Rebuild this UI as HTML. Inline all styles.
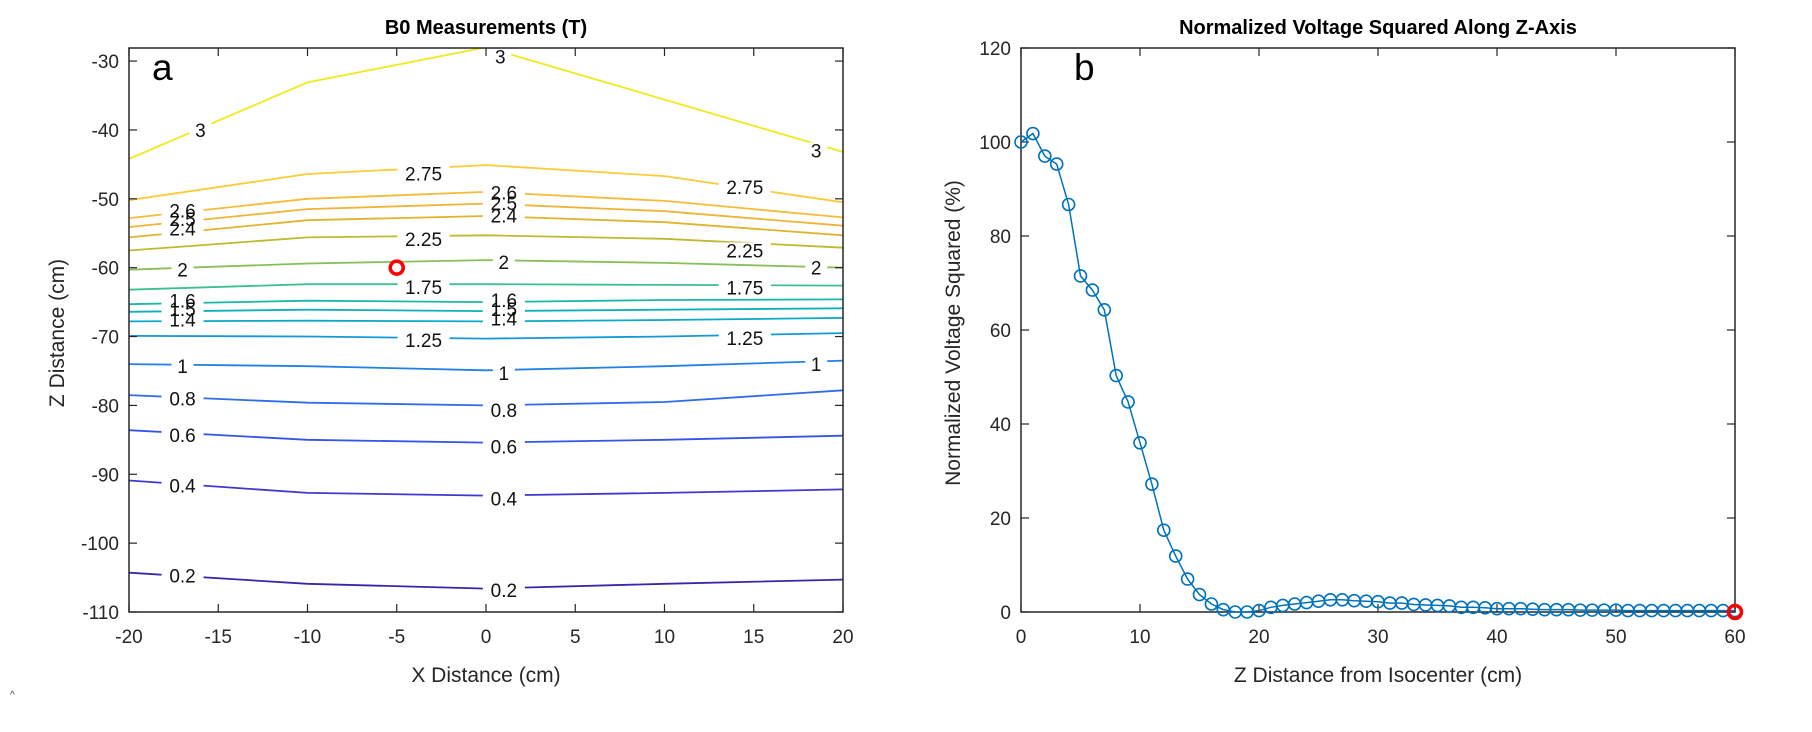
<!DOCTYPE html>
<html><head><meta charset="utf-8"><style>
html,body{margin:0;padding:0;background:#fff;}
svg{display:block;font-family:"Liberation Sans",Arial,sans-serif;}
</style></head><body>
<svg id="fig" width="1812" height="732" viewBox="0 0 1812 732">
<g id="left"></g>
<g id="right"></g>
<text x="10" y="698" font-size="10" fill="#444">^</text>
</svg>
<script>
// ---- Panel a data ----
const contourXs = [-20, -10, 0, 10, 20];
const contourLevels = [3, 2.75, 2.6, 2.5, 2.4, 2.25, 2, 1.75, 1.6, 1.5, 1.4, 1.25, 1, 0.8, 0.6, 0.4, 0.2];
const contourZ = [
 [-44.2,-33.1,-28.0,-35.6,-43.2],
 [-50.2,-46.4,-45.1,-46.7,-50.5],
 [-52.8,-50.0,-49.0,-50.3,-52.7],
 [-54.1,-51.5,-50.7,-51.8,-53.9],
 [-55.6,-53.1,-52.5,-53.4,-55.3],
 [-57.5,-55.6,-55.3,-55.8,-57.1],
 [-60.3,-59.4,-58.9,-59.3,-60.0],
 [-63.2,-62.4,-62.4,-62.5,-62.6],
 [-65.3,-64.8,-65.0,-64.7,-64.6],
 [-66.4,-66.1,-66.3,-66.1,-65.9],
 [-67.8,-67.7,-67.8,-67.6,-67.3],
 [-69.9,-70.0,-70.3,-70.0,-69.5],
 [-74.0,-74.3,-74.9,-74.3,-73.5],
 [-78.5,-79.6,-80.0,-79.5,-77.8],
 [-83.6,-85.0,-85.4,-85.0,-84.4],
 [-90.9,-92.7,-93.1,-92.7,-92.2],
 [-104.3,-105.9,-106.6,-105.9,-105.3]
];
const contourColors = ['#f2e81e','#fbcb3a','#f6bb39','#eeb537','#dfb42f','#bfb92f','#86c058','#3dbf8f','#1ab8a8','#0fb1b8','#0aa8c9','#1598d8','#2381e3','#2f6ced','#3555e6','#4138cc','#3f24a8'];
const labelLevels = ['3','3','3','2.75','2.75','2.6','2.6','2.5','2.5','2.4','2.4','2.25','2.25','2','2','2','1.75','1.75','1.6','1.6','1.5','1.5','1.4','1.4','1.25','1.25','1','1','1','0.8','0.8','0.6','0.6','0.4','0.4','0.2','0.2'];
const labelX = [-16,0.8,18.5,-3.5,14.5,-17,1,-17,1,-17,1,-3.5,14.5,-17,1,18.5,-3.5,14.5,-17,1,-17,1,-17,1,-3.5,14.5,-17,1,18.5,-17,1,-17,1,-17,1,-17,1];
const labelZ = [-40,-29.3,-43,-46.3,-48.3,-51.7,-49.1,-52.9,-50.6,-54.3,-52.4,-55.8,-57.5,-60.3,-59.2,-60,-62.8,-62.9,-64.8,-64.7,-66,-66,-67.5,-67.4,-70.5,-70.2,-74.3,-75.3,-74,-79,-80.7,-84.3,-86,-91.6,-93.5,-104.7,-106.8];
const leftXTicks = [-20,-15,-10,-5,0,5,10,15,20];
const leftYTicks = [-30,-40,-50,-60,-70,-80,-90,-100,-110];
const markerA = [-5, -60];

// ---- Panel b data ----
const zDist = [];
for (let i = 0; i <= 60; i++) zDist.push(i);
const voltSq = [100,101.8,97,95.3,86.7,71.5,68.5,64.3,50.3,44.7,36,27.2,17.4,11.9,7,3.7,1.7,0.5,0,0,0.3,1,1.4,1.7,2,2.3,2.6,2.6,2.4,2.3,2.2,1.9,1.9,1.6,1.5,1.4,1.3,1,1,0.9,0.7,0.7,0.7,0.6,0.5,0.5,0.5,0.4,0.4,0.4,0.4,0.3,0.3,0.3,0.3,0.3,0.3,0.3,0.3,0.3,0.3];
const rightXTicks = [0,10,20,30,40,50,60];
const rightYTicks = [0,20,40,60,80,100,120];
const markerB = [60, 0];

const NS = 'http://www.w3.org/2000/svg';
function mk(parent, tag, attrs, text) {
  const e = document.createElementNS(NS, tag);
  for (const k in attrs) e.setAttribute(k, attrs[k]);
  if (text !== undefined) e.textContent = text;
  parent.appendChild(e);
  return e;
}
const TC = '#262626';

// ---- Panel a ----
const L = document.getElementById('left');
const aL = 129, aR = 843, aT = 48, aB = 612;
const ax = x => aL + (x + 20) / 40 * (aR - aL);
const ay = z => aB - (z + 110) / 81.9 * (aB - aT);

const clipA = mk(L, 'clipPath', {id: 'clipA'});
mk(clipA, 'rect', {x: aL, y: aT, width: aR - aL, height: aB - aT});
const linesG = mk(L, 'g', {'clip-path': 'url(#clipA)'});


contourLevels.forEach((lv, i) => {
  const pts = contourXs.map((x, j) => ax(x).toFixed(1) + ',' + ay(contourZ[i][j]).toFixed(1)).join(' ');
  const pl = mk(linesG, 'polyline', {points: pts, fill: 'none', stroke: contourColors[i], 'stroke-width': 1.8});
  
  
});
labelLevels.forEach((t, i) => {
  const cx = ax(labelX[i]), cy = ay(labelZ[i]);
  const w = t.length * 10 + 12;
  const r = mk(L, 'rect', {x: cx - w / 2, y: cy - 8, width: w, height: 16, fill: '#fff'});
  
  
});
labelLevels.forEach((t, i) => {
  const cx = ax(labelX[i]), cy = ay(labelZ[i]);
  const tx = mk(L, 'text', {x: cx, y: cy + 7, 'font-size': 19, 'text-anchor': 'middle', fill: '#111'}, t);
  
  
});
mk(L, 'circle', {cx: ax(markerA[0]), cy: ay(markerA[1]), r: 6.5, fill: 'none', stroke: '#ff0000', 'stroke-width': 3.5,  });
mk(L, 'rect', {x: aL, y: aT, width: aR - aL, height: aB - aT, fill: 'none', stroke: TC, 'stroke-width': 1.5,  });
leftXTicks.forEach(v => {
  const x = ax(v);
  mk(L, 'line', {x1: x, y1: aB, x2: x, y2: aB - 8, stroke: TC, 'stroke-width': 1.2});
  mk(L, 'line', {x1: x, y1: aT, x2: x, y2: aT + 8, stroke: TC, 'stroke-width': 1.2});
  const t = mk(L, 'text', {x: x, y: aB + 31, 'font-size': 19, 'text-anchor': 'middle', fill: TC}, String(v));
  
  
});
leftYTicks.forEach(v => {
  const y = ay(v);
  mk(L, 'line', {x1: aL, y1: y, x2: aL + 8, y2: y, stroke: TC, 'stroke-width': 1.2});
  mk(L, 'line', {x1: aR, y1: y, x2: aR - 8, y2: y, stroke: TC, 'stroke-width': 1.2});
  const t = mk(L, 'text', {x: aL - 10, y: y + 7, 'font-size': 19, 'text-anchor': 'end', fill: TC}, String(v));
  
  
});
mk(L, 'text', {x: 486, y: 34, 'font-size': 20, 'font-weight': 'bold', 'text-anchor': 'middle', fill: '#000',  }, 'B0 Measurements (T)');
mk(L, 'text', {x: 486, y: 682, 'font-size': 21, 'text-anchor': 'middle', fill: TC,  }, 'X Distance (cm)');
mk(L, 'text', {x: 0, y: 0, 'font-size': 21, 'text-anchor': 'middle', fill: TC, transform: 'translate(64,333) rotate(-90)',  }, 'Z Distance (cm)');
mk(L, 'text', {x: 152, y: 80, 'font-size': 37, fill: '#000',  }, 'a');

// ---- Panel b ----
const R = document.getElementById('right');
const bL = 1021, bR = 1735, bT = 48, bB = 612;
const bx = x => bL + x / 60 * (bR - bL);
const by = v => bB - v / 120 * (bB - bT);
mk(R, 'rect', {x: bL, y: bT, width: bR - bL, height: bB - bT, fill: 'none', stroke: TC, 'stroke-width': 1.5,  });
rightXTicks.forEach(v => {
  const x = bx(v);
  mk(R, 'line', {x1: x, y1: bB, x2: x, y2: bB - 8, stroke: TC, 'stroke-width': 1.2});
  mk(R, 'line', {x1: x, y1: bT, x2: x, y2: bT + 8, stroke: TC, 'stroke-width': 1.2});
  const t = mk(R, 'text', {x: x, y: bB + 31, 'font-size': 19, 'text-anchor': 'middle', fill: TC}, String(v));
  
  
});
rightYTicks.forEach(v => {
  const y = by(v);
  mk(R, 'line', {x1: bL, y1: y, x2: bL + 8, y2: y, stroke: TC, 'stroke-width': 1.2});
  mk(R, 'line', {x1: bR, y1: y, x2: bR - 8, y2: y, stroke: TC, 'stroke-width': 1.2});
  const t = mk(R, 'text', {x: bL - 10, y: y + 7, 'font-size': 19, 'text-anchor': 'end', fill: TC}, String(v));
  
  
});
const lpts = zDist.map((x, i) => bx(x).toFixed(1) + ',' + by(voltSq[i]).toFixed(1)).join(' ');
mk(R, 'polyline', {points: lpts, fill: 'none', stroke: '#0072bd', 'stroke-width': 1.5,  });
zDist.forEach((x, i) => {
  const c = mk(R, 'circle', {cx: bx(x), cy: by(voltSq[i]), r: 6, fill: 'none', stroke: '#0072bd', 'stroke-width': 1.6});
  
  
});
mk(R, 'circle', {cx: bx(markerB[0]), cy: by(markerB[1]), r: 6.5, fill: 'none', stroke: '#ff0000', 'stroke-width': 3.5,  });
mk(R, 'text', {x: 1378, y: 34, 'font-size': 20, 'font-weight': 'bold', 'text-anchor': 'middle', fill: '#000',  }, 'Normalized Voltage Squared Along Z-Axis');
mk(R, 'text', {x: 1378, y: 682, 'font-size': 21, 'text-anchor': 'middle', fill: TC,  }, 'Z Distance from Isocenter (cm)');
mk(R, 'text', {x: 0, y: 0, 'font-size': 21, 'text-anchor': 'middle', fill: TC, transform: 'translate(960,333) rotate(-90)',  }, 'Normalized Voltage Squared (%)');
mk(R, 'text', {x: 1074, y: 80, 'font-size': 37, fill: '#000',  }, 'b');
</script>
</body></html>
